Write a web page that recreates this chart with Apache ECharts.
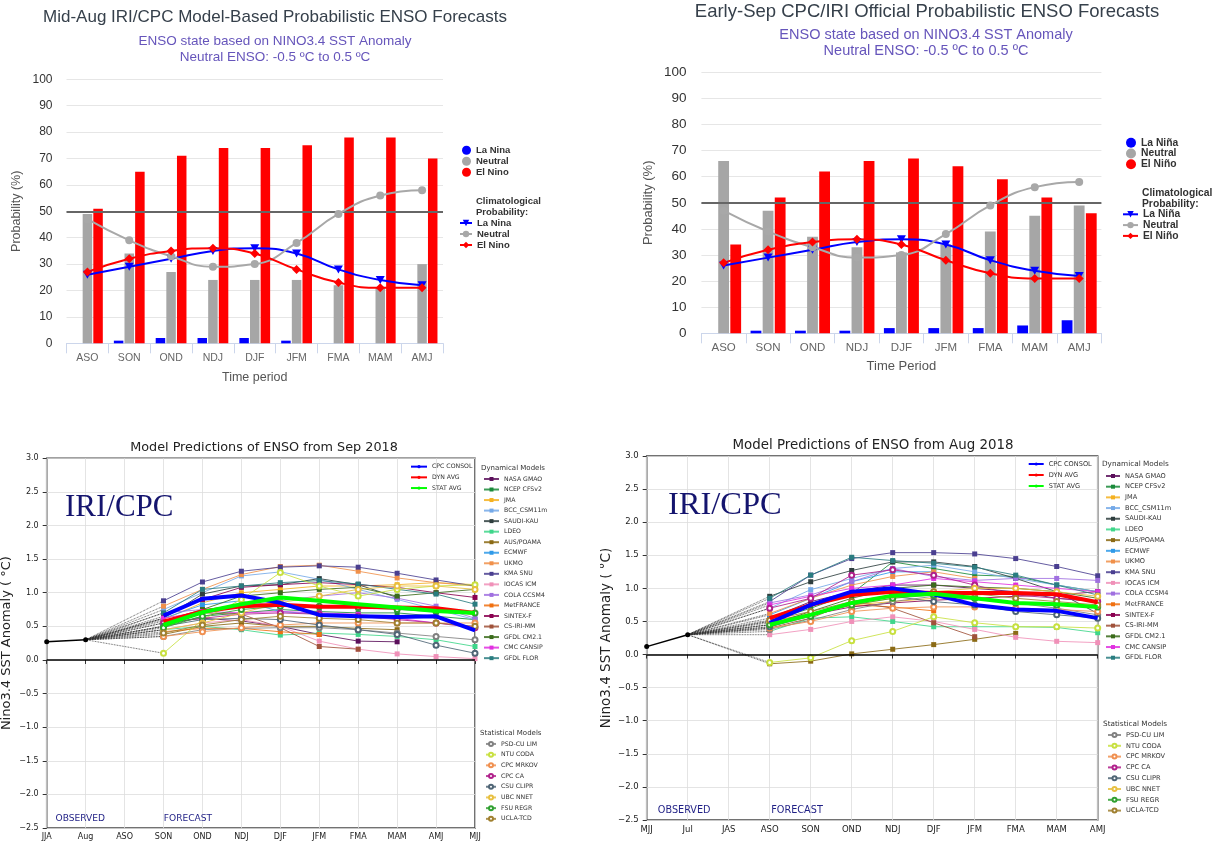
<!DOCTYPE html>
<html><head><meta charset="utf-8">
<script src="https://cdn.jsdelivr.net/npm/echarts/dist/echarts.min.js"></script>
<style>
html,body{margin:0;padding:0;background:#fff;width:1222px;height:844px;overflow:hidden}
.c{position:absolute}
</style></head><body>
<div id="tl" class="c" style="left:0;top:0;width:611px;height:425px"></div>
<div id="tr" class="c" style="left:611px;top:0;width:611px;height:425px"></div>
<div id="bl" class="c" style="left:0;top:425px;width:600px;height:419px"></div>
<div id="br" class="c" style="left:600px;top:425px;width:622px;height:419px"></div>
<script>
// ---------- Probability charts data ----------
const probCats = ['ASO','SON','OND','NDJ','DJF','JFM','FMA','MAM','AMJ'];
const augLaNina  = [0,1,2,2,2,1,0,0,0];
const augNeutral = [49,34,27,24,24,24,22,21,30];
const augElNino  = [51,65,71,74,74,75,78,78,70];
const sepLaNina  = [0,1,1,1,2,2,2,3,5];
const sepNeutral = [66,47,37,33,31,34,39,45,49];
const sepElNino  = [34,52,62,66,67,64,59,52,46];
const climLaNina  = [26,29,32,35,36,34,28,24,22];
const climNeutral = [47,39,33,29,30,38,49,56,58];
const climElNino  = [27,32,35,36,34,28,23,21,21];

// ---------- Plume charts data ----------
const sepCats = ['JJA','Aug','ASO','SON','OND','NDJ','DJF','JFM','FMA','MAM','AMJ','MJJ'];
const augCats = ['MJJ','Jul','JAS','ASO','SON','OND','NDJ','DJF','JFM','FMA','MAM','AMJ'];
const sepObserved = [0.27, 0.30];
const augObserved = [0.12, 0.30];
const sepConsol  = [0.66,0.91,0.96,0.85,0.67,0.65,0.64,0.65,0.44];
const sepDynAvg  = [0.57,0.72,0.80,0.82,0.79,0.79,0.78,0.77,0.70];
const sepStatAvg = [0.52,0.71,0.83,0.93,0.88,0.83,0.78,0.73,0.70];
const augConsol  = [0.48,0.75,0.95,1.00,0.91,0.75,0.68,0.66,0.55];
const augDynAvg  = [0.55,0.75,0.90,0.95,0.93,0.93,0.93,0.91,0.79];
const augStatAvg = [0.45,0.60,0.78,0.89,0.92,0.85,0.78,0.76,0.72];

const dynNames = ['NASA GMAO','NCEP CFSv2','JMA','BCC_CSM11m','SAUDI-KAU','LDEO','AUS/POAMA','ECMWF','UKMO','KMA SNU','IOCAS ICM','COLA CCSM4','MetFRANCE','SINTEX-F','CS-IRI-MM','GFDL CM2.1','CMC CANSIP','GFDL FLOR'];
const statNames = ['PSD-CU LIM','NTU CODA','CPC MRKOV','CPC CA','CSU CLIPR','UBC NNET','FSU REGR','UCLA-TCD'];

const sepDyn = [
  [0.55,0.62,0.58,0.50,0.38,0.28,0.27,null,null],
  [0.50,0.65,0.70,0.75,0.72,0.70,0.70,0.65,0.60],
  [0.60,0.85,1.00,1.05,1.10,1.10,1.12,1.15,1.12],
  [0.75,1.00,1.25,1.31,1.20,1.05,0.90,0.75,0.60],
  [0.62,0.98,1.10,1.12,1.21,1.12,0.93,null,null],
  [0.45,0.50,0.45,0.37,0.40,0.38,0.35,0.30,0.20],
  [0.38,0.50,0.55,0.50,0.50,0.47,0.45,null,null],
  [0.62,0.82,0.88,0.72,0.68,null,null,null,null],
  [0.80,1.05,1.27,1.39,1.41,1.32,1.22,1.15,1.10],
  [0.88,1.16,1.32,1.38,1.40,1.38,1.29,1.19,1.10],
  [0.45,0.55,0.60,0.50,0.28,0.16,0.09,0.05,0.02],
  [0.70,0.75,0.80,0.88,0.95,1.00,0.92,0.80,0.62],
  [0.42,0.47,0.47,0.42,0.38,null,null,null,null],
  [0.65,0.90,1.08,1.12,1.15,1.12,1.08,1.00,0.93],
  [0.50,0.70,0.68,0.48,0.20,0.16,null,null,null],
  [0.58,0.75,0.95,1.00,1.05,1.08,0.95,1.00,1.05],
  [0.62,0.72,0.70,0.72,0.70,0.68,0.62,0.55,0.50],
  [0.70,1.05,1.10,1.15,1.18,1.13,1.05,0.98,0.83]
];
const sepStat = [
  [0.35,0.45,0.47,0.48,0.48,0.45,0.40,0.35,0.30],
  [0.10,0.60,0.90,1.30,1.10,0.95,1.05,1.10,1.12],
  [0.35,0.42,0.48,0.52,0.55,0.55,0.55,0.55,0.55],
  [0.55,0.62,0.68,0.70,0.68,0.65,0.60,0.55,0.48],
  [0.50,0.60,0.62,0.60,0.52,0.45,0.38,0.22,0.10],
  [0.45,0.55,0.70,0.85,0.95,1.05,1.10,1.10,1.05],
  [0.48,0.65,0.75,0.80,0.80,0.78,0.75,0.72,0.70],
  [0.40,0.52,0.60,0.65,0.62,0.60,0.55,0.55,0.50]
];
const augDyn = [
  [0.55,0.80,0.95,1.05,1.05,1.00,0.95,0.85,0.80],
  [0.50,0.70,0.92,1.40,1.30,1.20,1.18,1.05,0.95],
  [0.45,0.62,0.75,0.80,0.85,0.90,0.92,null,null],
  [0.70,0.98,1.15,1.30,1.35,1.25,1.15,1.05,0.95],
  [0.88,1.10,1.27,1.40,1.40,1.33,1.15,0.95,0.62],
  [0.35,0.55,0.57,0.50,0.42,0.42,0.42,0.41,0.33],
  [-0.14,-0.10,0.01,0.08,0.15,0.23,0.32,null,null],
  [0.60,0.85,1.10,1.25,1.25,null,null,null,null],
  [0.62,0.85,1.05,1.18,1.25,1.15,null,null,null],
  [0.80,1.20,1.45,1.54,1.54,1.52,1.45,1.33,1.19],
  [0.30,0.38,0.50,0.57,0.50,0.38,0.26,0.20,0.18],
  [0.78,0.90,1.10,1.30,1.18,1.12,1.15,1.15,1.12],
  [0.50,0.62,0.75,0.72,0.66,null,null,null,null],
  [0.42,0.60,0.72,0.78,0.82,0.85,0.88,0.90,0.95],
  [0.40,0.55,0.80,0.70,0.48,0.27,null,null,null],
  [0.45,0.65,0.85,1.00,1.05,1.02,1.00,0.95,0.85],
  [0.75,0.88,1.00,1.05,1.15,1.10,1.05,1.00,0.95],
  [0.85,1.20,1.47,1.42,1.38,1.32,1.20,1.05,0.90]
];
const augStat = [
  [0.38,0.52,0.68,0.80,0.88,0.85,0.78,0.70,0.60],
  [-0.12,-0.05,0.21,0.35,0.57,0.48,0.42,0.42,0.40],
  [0.40,0.50,0.65,0.70,0.72,0.72,0.70,0.68,0.65],
  [0.70,0.85,1.20,1.28,1.20,1.05,0.90,0.85,0.80],
  [0.42,0.58,0.78,0.88,0.80,0.75,0.65,0.60,0.55],
  [0.48,0.60,0.75,0.85,0.95,1.00,1.00,0.95,0.88],
  [0.45,0.58,0.75,0.85,0.90,0.85,0.78,0.75,0.72],
  [0.52,0.65,0.80,0.90,0.95,0.92,0.85,0.80,0.75]
];

// ---------- styles ----------
const dynColors = ['#5b0f5b','#1a8a3a','#f5b120','#74a9e8','#2e3e3e','#3ed68a','#8b6a14','#2f9ae8','#f0904a','#4a3f90','#f090b8','#a070e0','#f07010','#8a0050','#a0523a','#3a6b1a','#e030e0','#2a7d80'];
const statColors = ['#808080','#c8e040','#f09050','#b0208b','#4f6575','#e8c040','#30a030','#a08030'];
const HF = '"Liberation Sans", Arial, sans-serif';
const MF = '"DejaVu Sans", sans-serif';

function txt(x, y, text, font, color, align) {
  align = align || 'left';
  return {type:'text', x:x, y:y, silent:true, z:100,
    style:{text:text, font:font, fill:color, textAlign:align, textVerticalAlign:'middle', align:align, verticalAlign:'middle'}};
}

function probChart(id, c) {
  const ch = echarts.init(document.getElementById(id));
  const downTri = 'path://M0,0L10,0L5,9Z';
  ch.setOption({
    animation:false,
    grid:{left:c.gl, right:c.gr, top:c.gt, bottom:c.gb, outerBoundsMode:'none'},
    xAxis:{type:'category', data:probCats, boundaryGap:true,
      axisLine:{lineStyle:{color:'#ccd6eb'}},
      axisTick:{show:true, length:10, lineStyle:{color:'#ccd6eb'}},
      axisLabel:{color:'#666', fontSize:c.xfs, fontFamily:HF, margin:c.xm, interval:0},
      splitLine:{show:false},
      name:c.xname, nameLocation:'middle', nameGap:c.xng, nameMoveOverlap:false,
      nameTextStyle:{color:'#555', fontSize:c.xnfs, fontFamily:HF}},
    yAxis:{type:'value', min:0, max:100, interval:10,
      axisLine:{show:false}, axisTick:{show:false},
      splitLine:{lineStyle:{color:'#e6e6e6'}},
      axisLabel:{color:'#333', fontSize:c.yfs, fontFamily:HF, margin:c.ym},
      name:'Probability (%)', nameLocation:'middle', nameGap:c.yng, nameRotate:90, nameMoveOverlap:false,
      nameTextStyle:{color:'#555', fontSize:c.ynfs, fontFamily:HF}},
    legend:[
      {data:c.names, orient:'vertical', left:c.l1x, top:c.l1y, icon:'circle', itemWidth:c.ciw, itemHeight:c.ciw,
       itemGap:0, padding:0, selectedMode:false,
       textStyle:{fontFamily:HF, fontSize:c.lfs, fontWeight:'bold', color:'#333', lineHeight:c.llh}},
      {data:c.names.map(n => 'Clim ' + n), formatter:n => n.replace('Clim ', ''), orient:'vertical',
       left:c.l2x, top:c.l2y, itemWidth:c.liw, itemHeight:8, itemGap:0, padding:0, selectedMode:false,
       textStyle:{fontFamily:HF, fontSize:c.lfs, fontWeight:'bold', color:'#333', lineHeight:c.llh}}
    ],
    graphic:[
      txt(c.tx, c.ty, c.title, 'normal ' + c.tfs + 'px ' + HF, '#36404b', 'center'),
      txt(c.sx, c.sy1, 'ENSO state based on NINO3.4 SST Anomaly', 'normal ' + c.sfs + 'px ' + HF, '#6655bb', 'center'),
      txt(c.sx, c.sy2, 'Neutral ENSO: -0.5 \u00baC to 0.5 \u00baC', 'normal ' + c.sfs + 'px ' + HF, '#6655bb', 'center'),
      txt(c.hx, c.hy1, 'Climatological', 'bold ' + c.lfs + 'px ' + HF, '#333'),
      txt(c.hx, c.hy2, 'Probability:', 'bold ' + c.lfs + 'px ' + HF, '#333')
    ],
    series:[
      {type:'line', name:'fiftyLine', data:[], z:1, silent:true,
       markLine:{silent:true, symbol:'none', label:{show:false}, animation:false,
         lineStyle:{color:'#666', width:2, type:'solid'}, data:[{yAxis:50}]}},
      {name:c.names[0], type:'bar', data:c.lanina, barWidth:c.bw, barGap:'12%', itemStyle:{color:'#0000ff'}, z:2},
      {name:c.names[1], type:'bar', data:c.neutral, barWidth:c.bw, barGap:'12%', itemStyle:{color:'#a6a6a6'}, z:2},
      {name:c.names[2], type:'bar', data:c.elnino, barWidth:c.bw, barGap:'12%', itemStyle:{color:'#ff0000'}, z:2},
      {name:'Clim ' + c.names[0], type:'line', data:climLaNina, smooth:true, symbol:downTri, symbolSize:[9,8],
       lineStyle:{width:2, color:'#0000ff'}, itemStyle:{color:'#0000ff'}, z:5},
      {name:'Clim ' + c.names[1], type:'line', data:climNeutral, smooth:true, symbol:'circle', symbolSize:8,
       lineStyle:{width:2, color:'#a8a8a8'}, itemStyle:{color:'#a8a8a8'}, z:5},
      {name:'Clim ' + c.names[2], type:'line', data:climElNino, smooth:true, symbol:'diamond', symbolSize:9,
       lineStyle:{width:2, color:'#ff0000'}, itemStyle:{color:'#ff0000'}, z:5}
    ]
  });
}

probChart('tl', {
  title:'Mid-Aug IRI/CPC Model-Based Probabilistic ENSO Forecasts', tx:275, ty:17, tfs:17,
  sx:275, sy1:41.7, sy2:57.3, sfs:13.5,
  names:['La Nina','Neutral','El Nino'], lanina:augLaNina, neutral:augNeutral, elnino:augElNino,
  gl:66.5, gr:168, gt:79.3, gb:81.7,
  xfs:10.5, xm:9, xname:'Time period', xng:28, xnfs:12.5,
  yfs:12, ym:14, yng:43.5, ynfs:12.5,
  bw:9.5, ciw:9, lfs:9.5, llh:11,
  l1x:462, l1y:144.8, l2x:459, l2y:217.5, liw:12,
  hx:476, hy1:201.3, hy2:212
});
probChart('tr', {
  title:'Early-Sep CPC/IRI Official Probabilistic ENSO Forecasts', tx:316, ty:12, tfs:18.5,
  sx:315, sy1:35.3, sy2:51, sfs:14.5,
  names:['La Ni\u00f1a','Neutral','El Ni\u00f1o'], lanina:sepLaNina, neutral:sepNeutral, elnino:sepElNino,
  gl:90.4, gr:120.6, gt:72.3, gb:91.7,
  xfs:11.5, xm:8.5, xname:'Time Period', xng:27, xnfs:13,
  yfs:13.5, ym:15, yng:46.4, ynfs:13,
  bw:10.8, ciw:10, lfs:10.3, llh:10.8,
  l1x:515, l1y:137.3, l2x:511, l2y:208.9, liw:15,
  hx:531, hy1:193.3, hy2:203.7
});

function plume(id, c) {
  const ch = echarts.init(document.getElementById(id));
  const n = c.cats.length;
  const pad = v => [null, null, null].concat(v);
  const conn = v => { const a = new Array(n).fill(null); a[1] = c.obs[1]; a[3] = v[0]; return a; };
  const models = dynNames.map((nm, i) => ({name:nm, vals:c.dyn[i], color:dynColors[i], sym:'rect'}))
    .concat(statNames.map((nm, i) => ({name:nm, vals:c.stat[i], color:statColors[i], sym:'emptyCircle'})));
  const series = [];
  models.forEach((m, i) => series.push({type:'line', name:'conn' + i, data:conn(m.vals), connectNulls:true, symbol:'none',
    silent:true, lineStyle:{type:'dotted', color:'#333', width:0.8}, z:1}));
  models.forEach(m => series.push({name:m.name, type:'line', data:pad(m.vals), symbol:m.sym, symbolSize:5,
    itemStyle:{color:m.color, borderWidth:1}, lineStyle:{color:m.color, width:1, opacity:0.85}, z:2}));
  const obs = new Array(n).fill(null); obs[0] = c.obs[0]; obs[1] = c.obs[1];
  series.push({name:'observed', type:'line', data:obs, symbol:'circle', symbolSize:5, itemStyle:{color:'#000'},
    lineStyle:{color:'#000', width:1.5}, z:6,
    markLine:{silent:true, symbol:'none', label:{show:false}, animation:false,
      lineStyle:{color:'#000', width:1.5, type:'solid'}, data:[{yAxis:0}]}});
  series.push({name:'DYN AVG', type:'line', data:pad(c.dynAvg), symbol:'none', lineStyle:{color:'#ff0000', width:4}, itemStyle:{color:'#ff0000'}, z:7});
  series.push({name:'CPC CONSOL', type:'line', data:pad(c.consol), symbol:'none', lineStyle:{color:'#0000ff', width:4}, itemStyle:{color:'#0000ff'}, z:8});
  series.push({name:'STAT AVG', type:'line', data:pad(c.statAvg), symbol:'none', lineStyle:{color:'#00ff00', width:4}, itemStyle:{color:'#00ff00'}, z:9});
  const ls = (fs, lh) => ({fontFamily:MF, fontSize:fs, color:'#333', lineHeight:lh});
  ch.setOption({
    animation:false,
    grid:{left:c.gl, right:c.gr, top:c.gt, bottom:c.gb, show:true, borderColor:'#444', borderWidth:1.5, outerBoundsMode:'none'},
    xAxis:{type:'category', data:c.cats, boundaryGap:false,
      axisLine:{show:false}, axisTick:{show:true, length:4, interval:0, lineStyle:{color:'#333'}},
      axisLabel:{color:'#222', fontSize:c.tfs, fontFamily:MF, margin:c.xm, interval:0},
      splitLine:{show:true, interval:0, lineStyle:{color:'#dddddd', width:0.8}}},
    yAxis:{type:'value', min:-2.5, max:3.0, interval:0.5,
      axisLine:{show:false}, axisTick:{show:true, length:4, lineStyle:{color:'#333'}},
      axisLabel:{color:'#222', fontSize:c.tfs, fontFamily:MF, margin:8,
        formatter:v => v.toFixed(1).replace('-', '\u2212')},
      splitLine:{lineStyle:{color:'#dddddd', width:0.8}},
      name:'Nino3.4 SST Anomaly ( \u00b0C)', nameLocation:'middle', nameGap:c.yng, nameRotate:90, nameMoveOverlap:false,
      nameTextStyle:{color:'#222', fontSize:c.ynfs, fontFamily:MF}},
    legend:[
      {data:['CPC CONSOL','DYN AVG','STAT AVG'], orient:'vertical', left:c.ax, top:c.ay, itemWidth:c.aiw, itemHeight:4,
       itemGap:0, padding:0, selectedMode:false, textStyle:ls(c.lfs, c.alh)},
      {data:dynNames, orient:'vertical', left:c.dx, top:c.dy, itemWidth:c.diw, itemHeight:5,
       itemGap:0, padding:0, selectedMode:false, textStyle:ls(c.lfs, c.dlh)},
      {data:statNames, orient:'vertical', left:c.stx, top:c.sty, itemWidth:c.siw, itemHeight:5,
       itemGap:0, padding:0, selectedMode:false, textStyle:ls(c.lfs, c.slh)}
    ],
    graphic:[
      txt(c.tx, c.ty, c.title, 'normal ' + c.titfs + 'px ' + MF, '#222', 'center'),
      txt(c.ix, c.iy, 'IRI/CPC', 'normal ' + c.ifs + 'px "Liberation Serif", "Times New Roman", serif', '#14146e'),
      txt(c.ox, c.oy, 'OBSERVED', 'normal ' + c.ofs + 'px ' + MF, '#1f1f85'),
      txt(c.fx, c.oy, 'FORECAST', 'normal ' + c.ofs + 'px ' + MF, '#1f1f85'),
      txt(c.dhx, c.dhy, 'Dynamical Models', 'normal ' + c.hfs + 'px ' + MF, '#333'),
      txt(c.shx, c.shy, 'Statistical Models', 'normal ' + c.hfs + 'px ' + MF, '#333')
    ],
    series:series
  });
}

plume('bl', {
  cats:sepCats, obs:sepObserved, dyn:sepDyn, stat:sepStat, consol:sepConsol, dynAvg:sepDynAvg, statAvg:sepStatAvg,
  gl:46.7, gr:125, gt:33.3, gb:16,
  tfs:8, xm:5, yng:33.4, ynfs:13,
  title:'Model Predictions of ENSO from Sep 2018', tx:264, ty:22.3, titfs:12.8,
  ix:65, iy:83, ifs:31,
  ox:55.5, fx:163.8, oy:393.3, ofs:9.1,
  lfs:6.2, hfs:7,
  ax:410, ay:36.3, aiw:16, alh:10.7,
  dx:483, dy:48.7, diw:15, dlh:10.54,
  stx:485, sty:313.6, siw:10, slh:10.7,
  dhx:481, dhy:42.7, shx:480, shy:308.3
});
plume('br', {
  cats:augCats, obs:augObserved, dyn:augDyn, stat:augStat, consol:augConsol, dynAvg:augDynAvg, statAvg:augStatAvg,
  gl:46.7, gr:124.3, gt:31, gb:24,
  tfs:8.5, xm:5, yng:33.4, ynfs:13.5,
  title:'Model Predictions of ENSO from Aug 2018', tx:273, ty:20.7, titfs:13.4,
  ix:68, iy:80.5, ifs:32.5,
  ox:57.8, fx:171.3, oy:385, ofs:9.7,
  lfs:6.6, hfs:7.3,
  ax:427.7, ay:33.5, aiw:15, alh:11,
  dx:505, dy:45.65, diw:14, dlh:10.69,
  stx:507, sty:304.6, siw:13, slh:10.8,
  dhx:502, dhy:39.3, shx:503, shy:299
});
</script>
</body></html>
